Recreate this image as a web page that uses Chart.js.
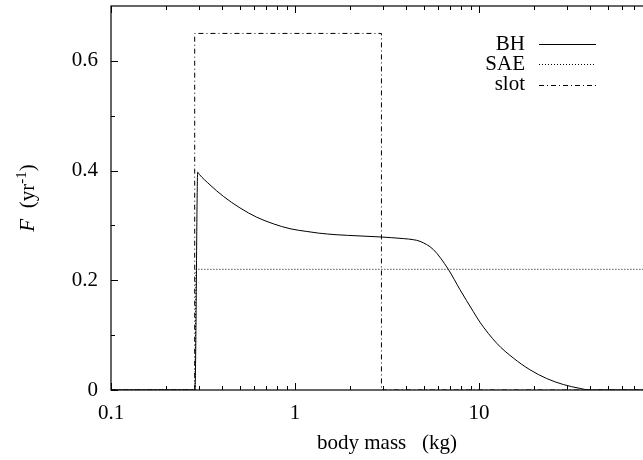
<!DOCTYPE html>
<html>
<head>
<meta charset="utf-8">
<script src="https://cdn.jsdelivr.net/npm/chart.js@4/dist/chart.umd.min.js"></script>
<style>
  html, body { margin: 0; padding: 0; overflow: hidden; background: #fff; }
  #wrap { width: 643px; height: 460px; overflow: hidden; }
</style>
</head>
<body>
<div id="wrap"><canvas id="chart" width="680" height="460"></canvas></div>
<script>
// values
const bhMass = [0.1, 0.286, 0.296, 0.302, 0.345, 0.408, 0.502, 0.619, 0.762, 0.939, 1.16, 1.34, 1.69, 2.2, 2.9, 3.88, 4.4, 4.78, 5.65, 6.81, 7.88, 9.31, 10.1, 12.5, 15.4, 18.9, 23.3, 28.7, 35.3, 40, 100];
const bhRate = [0, 0, 0.397, 0.393, 0.374, 0.353, 0.332, 0.315, 0.303, 0.294, 0.289, 0.286, 0.283, 0.281, 0.279, 0.276, 0.274, 0.271, 0.256, 0.220, 0.183, 0.143, 0.124, 0.085, 0.058, 0.037, 0.021, 0.010, 0.003, 0, 0];

const saeMass = [0.1, 0.286, 0.29, 100];
const saeRate = [0, 0, 0.22, 0.22];

const slotMass = [0.1, 0.285, 0.285, 2.95, 2.95, 100];
const slotRate = [0, 0, 0.65, 0.65, 0, 0];

const seriesNames = ["BH", "SAE", "slot"];

const xMajorTicks = [0.1, 1, 10, 100];
const yMajorTicks = [0, 0.2, 0.4, 0.6];
const yMinorTicks = [0.1, 0.3, 0.5];

const FONT = "'Liberation Serif', 'DejaVu Serif', serif";

function toPoints(xs, ys) {
    return xs.map((x, i) => ({x: x, y: ys[i]}));
}

// minor ticks of a log axis: 2..9 times each decade
function logMinors(majors) {
    let out = [];
    for (let i = 0; i < majors.length - 1; i++) {
        for (let k = 2; k <= 9; k++) out.push(majors[i] * k);
    }
    return out;
}

const frameTicks = {
    id: 'frameTicks',
    afterDatasetsDraw(chart) {
        const ctx = chart.ctx;
        const a = chart.chartArea;
        const xs = chart.scales.x;
        const ys = chart.scales.y;
        ctx.save();
        ctx.strokeStyle = '#000';
        ctx.lineWidth = 1.2;
        ctx.setLineDash([]);
        ctx.strokeRect(a.left, a.top, a.right - a.left, a.bottom - a.top);

        ctx.lineWidth = 1;
        ctx.beginPath();
        const xTick = (v, len) => {
            const p = Math.round(xs.getPixelForValue(v)) + 0.5;
            ctx.moveTo(p, a.bottom); ctx.lineTo(p, a.bottom - len);
            ctx.moveTo(p, a.top); ctx.lineTo(p, a.top + len);
        };
        const yTick = (v, len) => {
            const p = Math.round(ys.getPixelForValue(v)) + 0.5;
            ctx.moveTo(a.left, p); ctx.lineTo(a.left + len, p);
            ctx.moveTo(a.right, p); ctx.lineTo(a.right - len, p);
        };
        xMajorTicks.forEach(v => xTick(v, 7));
        logMinors(xMajorTicks).forEach(v => xTick(v, 4));
        yMajorTicks.forEach(v => yTick(v, 7));
        yMinorTicks.forEach(v => yTick(v, 4));
        ctx.stroke();

        // legend, gnuplot style
        const rowsY = [44, 64, 84.5];
        chart.data.datasets.forEach((ds, i) => {
            ctx.fillStyle = '#000';
            ctx.font = "21px " + FONT;
            ctx.textAlign = 'right';
            ctx.textBaseline = 'middle';
            ctx.fillText(ds.label, 525, rowsY[i]);
            ctx.strokeStyle = ds.borderColor;
            ctx.lineWidth = ds.borderWidth;
            ctx.setLineDash(ds.borderDash || []);
            ctx.beginPath();
            ctx.moveTo(539, Math.round(rowsY[i]) + 0.5);
            ctx.lineTo(596, Math.round(rowsY[i]) + 0.5);
            ctx.stroke();
        });
        ctx.setLineDash([]);

        // y axis title: F (yr^-1)
        ctx.translate(27, (a.top + a.bottom) / 2);
        ctx.rotate(-Math.PI / 2);
        ctx.textAlign = 'left';
        ctx.textBaseline = 'alphabetic';
        const parts = [
            {t: 'F', f: "italic 21px " + FONT, dy: 0},
            {t: '  (yr', f: "21px " + FONT, dy: 0},
            {t: '-1', f: "15px " + FONT, dy: -8},
            {t: ')', f: "21px " + FONT, dy: 0}
        ];
        let total = 0;
        parts.forEach(p => { ctx.font = p.f; p.w = ctx.measureText(p.t).width; total += p.w; });
        let cx = -total / 2;
        parts.forEach(p => {
            ctx.font = p.f;
            ctx.fillStyle = '#000';
            ctx.fillText(p.t, cx, 7 + p.dy);
            cx += p.w;
        });
        ctx.restore();
    }
};

new Chart(document.getElementById('chart'), {
    type: 'line',
    data: {
        datasets: [
            {
                label: seriesNames[0],
                data: toPoints(bhMass, bhRate),
                borderColor: '#000',
                borderWidth: 1,
                pointRadius: 0,
                cubicInterpolationMode: 'monotone',
                fill: false
            },
            {
                label: seriesNames[1],
                data: toPoints(saeMass, saeRate),
                borderColor: '#000',
                borderWidth: 1,
                borderDash: [1, 2],
                pointRadius: 0,
                tension: 0,
                fill: false
            },
            {
                label: seriesNames[2],
                data: toPoints(slotMass, slotRate),
                borderColor: '#000',
                borderWidth: 1,
                borderDash: [5, 3, 1, 3],
                pointRadius: 0,
                tension: 0,
                fill: false
            }
        ]
    },
    options: {
        responsive: false,
        animation: false,
        events: [],
        layout: { padding: { top: 6, right: 17, bottom: 2, left: 0 } },
        plugins: {
            legend: { display: false },
            tooltip: { enabled: false }
        },
        scales: {
            x: {
                type: 'logarithmic',
                min: 0.1,
                max: 100,
                grid: { display: false },
                border: { display: false },
                afterBuildTicks: (scale) => { scale.ticks = xMajorTicks.map(v => ({value: v})); },
                afterFit: (scale) => {
                    scale.height = 68;
                    scale.paddingLeft = 0;
                    scale.paddingRight = 0;
                },
                ticks: {
                    color: '#000',
                    font: { family: FONT, size: 21 },
                    padding: 3,
                    maxRotation: 0,
                    autoSkip: false,
                    callback: (v) => String(v)
                },
                title: {
                    display: true,
                    text: 'body mass   (kg)',
                    color: '#000',
                    font: { family: FONT, size: 21 },
                    padding: { top: 0, bottom: 2 }
                }
            },
            y: {
                type: 'linear',
                min: 0,
                max: 0.7,
                grid: { display: false },
                border: { display: false },
                afterBuildTicks: (scale) => { scale.ticks = yMajorTicks.map(v => ({value: v})); },
                afterFit: (scale) => {
                    scale.width = 111;
                    scale.paddingTop = 0;
                    scale.paddingBottom = 0;
                },
                ticks: {
                    color: '#000',
                    font: { family: FONT, size: 21 },
                    padding: 5,
                    callback: (v) => v === 0 ? '0' : v.toFixed(1)
                }
            }
        }
    },
    plugins: [frameTicks]
});
</script>
</body>
</html>
